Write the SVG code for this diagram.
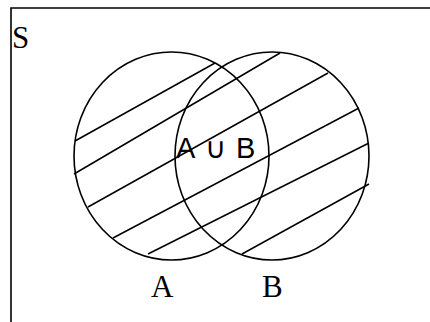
<svg xmlns="http://www.w3.org/2000/svg" width="430" height="322" viewBox="0 0 430 322">
<style>
.frame{fill:none;stroke:#000;stroke-width:1.6}
.set{fill:none;stroke:#000;stroke-width:1.6}
.hatch{stroke:#000;stroke-width:1.5;stroke-linecap:butt}
.lbl{font-family:"Liberation Serif","Times New Roman",serif;font-size:31px;fill:#000}
.mid{font-family:"Liberation Sans","DejaVu Sans",sans-serif;font-size:29px;fill:#000}
</style>
<rect width="430" height="322" fill="#fff"/>
<path class="frame" d="M11,322 V8 H430"/>
<text class="lbl" x="12" y="48">S</text>
<g id="setA">
<ellipse class="set" cx="171.5" cy="156" rx="97.5" ry="104"/>
<text class="lbl" x="151" y="297">A</text>
</g>
<g id="setB">
<ellipse class="set" cx="272" cy="156" rx="97" ry="104"/>
<text class="lbl" x="262" y="297">B</text>
</g>
<g id="hatching">
<line class="hatch" x1="75" y1="141" x2="215" y2="63"/>
<line class="hatch" x1="74" y1="174" x2="280" y2="53"/>
<line class="hatch" x1="88" y1="207" x2="328" y2="73"/>
<line class="hatch" x1="113" y1="238" x2="359" y2="108"/>
<line class="hatch" x1="148" y1="254" x2="369" y2="143"/>
<line class="hatch" x1="242" y1="254" x2="369" y2="184"/>
</g>
<g id="union-label">
<text class="mid" y="158"><tspan x="176">A</tspan><tspan x="205">∪</tspan><tspan x="236">B</tspan></text>
</g>
</svg>
